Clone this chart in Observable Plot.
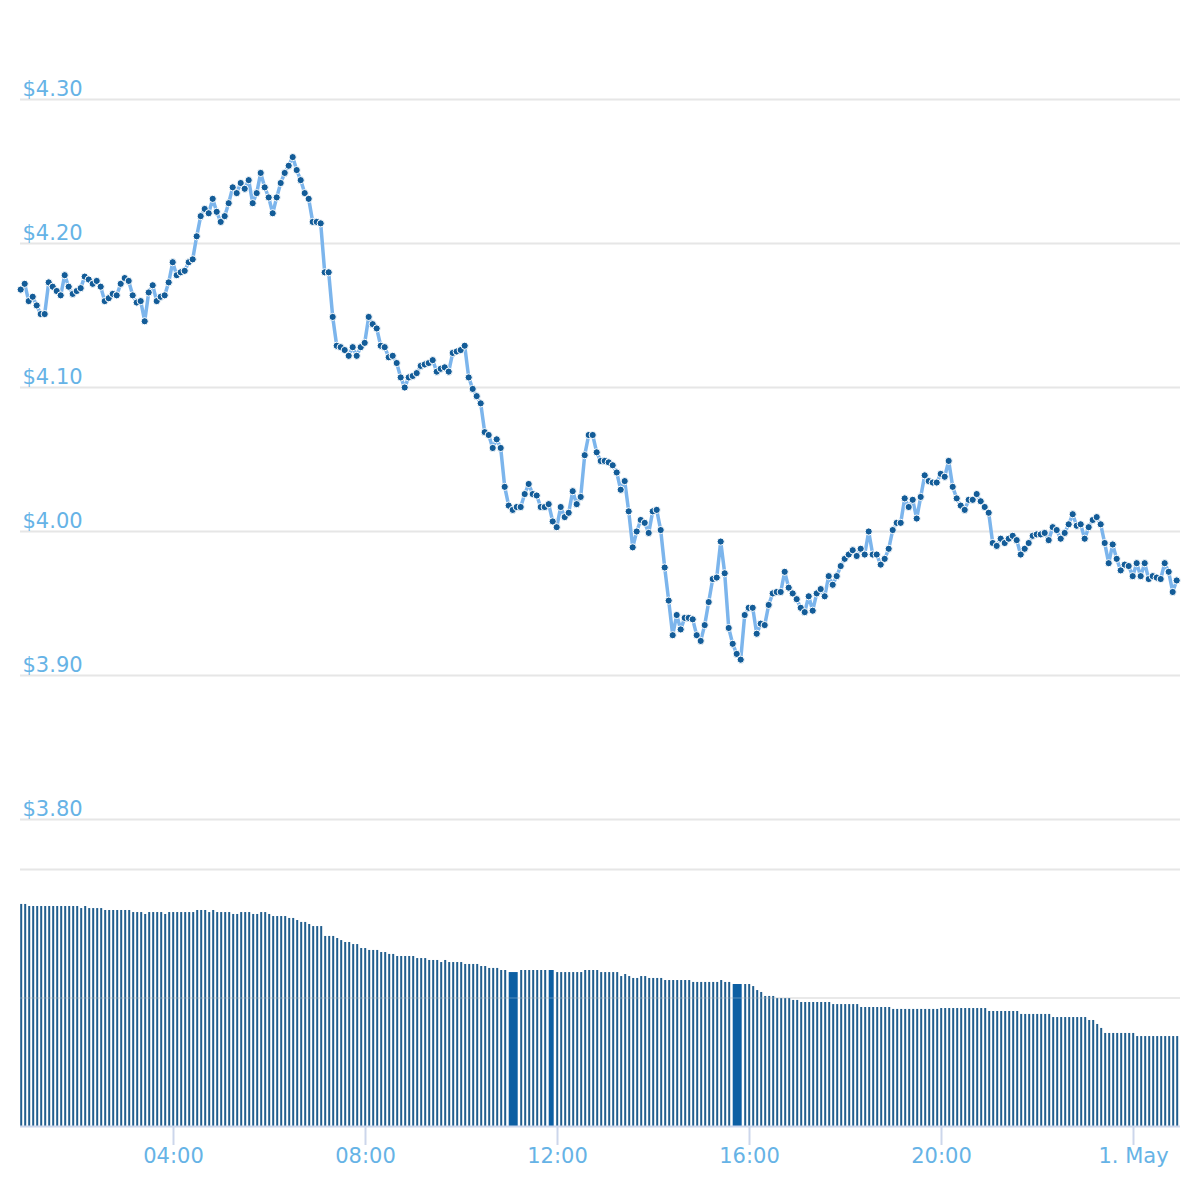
<!DOCTYPE html>
<html><head><meta charset="utf-8">
<script src="https://cdn.jsdelivr.net/npm/d3@7"></script>
<script src="https://cdn.jsdelivr.net/npm/@observablehq/plot@0.6"></script>
<style>
html,body{margin:0;padding:0;background:#fff;}
#chart{width:1200px;height:1200px;position:relative;overflow:hidden;}
#chart svg{display:block;}
</style></head><body><div id="chart"></div>
<script>
// ---- data ----
const startTime = "2021-04-30T00:49:00Z";
const stepMinutes = 5;
const xDomainStart = "2021-04-30T00:48:45Z";
const xDomainEnd = "2021-05-01T00:58:45Z";

const prices = [
4.168,4.172,4.160,4.163,4.157,4.151,4.151,4.173,4.170,4.167,
4.164,4.178,4.170,4.165,4.167,4.169,4.177,4.175,4.172,4.174,
4.170,4.160,4.162,4.165,4.164,4.172,4.176,4.174,4.164,4.159,
4.160,4.146,4.166,4.171,4.160,4.163,4.164,4.173,4.187,4.178,
4.180,4.181,4.187,4.189,4.205,4.219,4.224,4.221,4.231,4.222,
4.215,4.219,4.228,4.239,4.235,4.242,4.238,4.244,4.228,4.235,
4.249,4.239,4.232,4.221,4.232,4.242,4.249,4.254,4.260,4.251,
4.244,4.235,4.231,4.215,4.215,4.214,4.180,4.180,4.149,4.129,
4.128,4.126,4.122,4.128,4.122,4.128,4.131,4.149,4.144,4.141,
4.129,4.128,4.121,4.122,4.117,4.107,4.100,4.107,4.108,4.110,
4.115,4.116,4.117,4.119,4.111,4.113,4.114,4.111,4.124,4.125,
4.126,4.129,4.107,4.099,4.094,4.089,4.069,4.067,4.058,4.064,
4.058,4.031,4.018,4.015,4.017,4.017,4.026,4.033,4.026,4.025,
4.017,4.017,4.019,4.007,4.003,4.017,4.010,4.013,4.028,4.019,
4.024,4.053,4.067,4.067,4.055,4.049,4.049,4.048,4.046,4.041,
4.029,4.035,4.014,3.989,4.000,4.008,4.006,3.999,4.014,4.015,
4.001,3.975,3.952,3.928,3.942,3.932,3.940,3.940,3.939,3.928,
3.924,3.935,3.951,3.967,3.968,3.993,3.971,3.933,3.922,3.915,
3.911,3.942,3.947,3.947,3.929,3.936,3.935,3.949,3.957,3.958,
3.958,3.972,3.961,3.957,3.953,3.947,3.944,3.955,3.945,3.957,
3.960,3.955,3.969,3.963,3.969,3.976,3.981,3.984,3.987,3.983,
3.988,3.984,4.000,3.984,3.984,3.977,3.981,3.988,4.001,4.006,
4.006,4.023,4.017,4.022,4.009,4.024,4.039,4.035,4.034,4.034,
4.040,4.038,4.049,4.031,4.023,4.018,4.015,4.022,4.022,4.026,
4.021,4.017,4.013,3.992,3.990,3.995,3.992,3.995,3.997,3.994,
3.984,3.988,3.992,3.997,3.998,3.998,3.999,3.994,4.003,4.001,
3.995,3.999,4.005,4.012,4.004,4.005,3.995,4.003,4.008,4.010,
4.005,3.992,3.978,3.991,3.981,3.973,3.977,3.976,3.969,3.978,
3.969,3.978,3.967,3.969,3.968,3.967,3.978,3.972,3.958,3.966
];

// volume per 5-minute slot (null = slot covered by the previous, wider bar)
const volumes = [
1.728,1.728,1.712,1.712,1.712,1.712,1.712,1.712,1.712,1.712,
1.712,1.712,1.712,1.712,1.712,1.696,1.712,1.696,1.696,1.696,
1.696,1.681,1.681,1.681,1.681,1.681,1.681,1.681,1.665,1.665,
1.665,1.650,1.665,1.665,1.665,1.665,1.650,1.665,1.665,1.665,
1.665,1.665,1.665,1.665,1.681,1.681,1.681,1.665,1.681,1.665,
1.665,1.665,1.665,1.650,1.650,1.665,1.665,1.665,1.650,1.650,
1.665,1.665,1.650,1.634,1.634,1.634,1.634,1.619,1.619,1.603,
1.588,1.588,1.572,1.556,1.556,1.556,1.479,1.479,1.479,1.463,
1.447,1.432,1.432,1.416,1.416,1.385,1.385,1.370,1.370,1.370,
1.354,1.354,1.339,1.339,1.323,1.323,1.323,1.323,1.323,1.307,
1.307,1.307,1.292,1.292,1.292,1.276,1.292,1.276,1.276,1.276,
1.276,1.261,1.261,1.261,1.261,1.245,1.245,1.230,1.230,1.230,
1.214,1.214,1.198,null,null,1.214,1.214,1.214,1.214,1.214,
1.214,1.214,1.214,null,1.198,1.198,1.198,1.198,1.198,1.198,
1.198,1.214,1.214,1.214,1.214,1.198,1.198,1.198,1.198,1.198,
1.167,1.183,1.167,1.152,1.152,1.167,1.167,1.152,1.152,1.152,
1.152,1.136,1.136,1.136,1.136,1.136,1.136,1.136,1.121,1.121,
1.121,1.121,1.121,1.121,1.121,1.136,1.121,1.121,1.105,null,
null,1.105,1.105,1.089,1.058,1.043,1.012,1.012,1.012,0.996,
0.996,0.996,0.996,0.981,0.981,0.965,0.965,0.965,0.965,0.965,
0.965,0.965,0.965,0.949,0.949,0.949,0.949,0.949,0.949,0.949,
0.926,0.926,0.926,0.926,0.926,0.926,0.926,0.926,0.911,0.911,
0.911,0.911,0.911,0.911,0.911,0.911,0.911,0.911,0.911,0.911,
0.918,0.918,0.918,0.918,0.918,0.918,0.918,0.918,0.918,0.918,
0.918,0.918,0.895,0.895,0.895,0.895,0.895,0.895,0.895,0.895,
0.872,0.872,0.872,0.872,0.872,0.872,0.872,0.872,0.848,0.848,
0.848,0.848,0.848,0.848,0.848,0.848,0.848,0.825,0.825,0.794,
0.763,0.724,0.724,0.724,0.724,0.724,0.724,0.724,0.724,0.700,
0.700,0.700,0.700,0.700,0.700,0.700,0.700,0.700,0.700,0.700
];

const priceTicks = [3.80, 3.90, 4.00, 4.10, 4.20, 4.30];
const volumeGrid = [1, 2];
const timeTicks = ["2021-04-30T04:00:00Z","2021-04-30T08:00:00Z","2021-04-30T12:00:00Z",
                   "2021-04-30T16:00:00Z","2021-04-30T20:00:00Z","2021-05-01T00:00:00Z"];
const timeTickLabels = ["04:00","08:00","12:00","16:00","20:00","1. May"];

// ---- build tables ----
const t0 = new Date(startTime).getTime();
const step = stepMinutes * 60000;
const series = prices.map((p, i) => ({t: new Date(t0 + i * step), p}));
const bars = [];
volumes.forEach((v, i) => {
  if (v == null) { if (bars.length) bars[bars.length - 1].span++; return; }
  bars.push({i, v, span: 1});
});
bars.forEach(b => {
  b.t1 = new Date(t0 + b.i * step - step / 2 + step * 0.25);
  b.t2 = new Date(t0 + (b.i + b.span - 1) * step + step / 2 + step * 0.25);
});
const xDomain = [new Date(xDomainStart), new Date(xDomainEnd)];
const labelColor = "#66b3e6";
const font = {fontFamily: "DejaVu Sans, Verdana, sans-serif", fontSize: "21px", background: "#fff"};

const pricePlot = Plot.plot({
  width: 1200, height: 860,
  marginLeft: 20, marginRight: 20, marginTop: 99, marginBottom: 41,
  style: font,
  x: {type: "utc", domain: xDomain, axis: null},
  y: {domain: [3.8, 4.3], axis: null},
  marks: [
    Plot.ruleY(priceTicks, {stroke: "#e6e6e6", strokeWidth: 2}),
    Plot.text(priceTicks, {y: d => d, frameAnchor: "left", textAnchor: "start", dx: 2, dy: -10,
      text: d => "$" + d.toFixed(2), fill: labelColor, fontSize: 21}),
    Plot.line(series, {x: "t", y: "p", stroke: "#7cb5ec", strokeWidth: 3.5}),
    Plot.dot(series, {x: "t", y: "p", r: 3.6, fill: "#135c98", stroke: "#fff", strokeWidth: 1})
  ]
});

const volumePlot = Plot.plot({
  width: 1200, height: 340,
  marginLeft: 20, marginRight: 20, marginTop: 9, marginBottom: 74,
  style: font,
  x: {type: "utc", domain: xDomain},
  y: {domain: [0, 2], axis: null},
  marks: [
    Plot.ruleY(volumeGrid, {stroke: "#e6e6e6", strokeWidth: 2}),
    Plot.rect(bars.filter(b => b.span === 1), {x1: "t1", x2: "t2", y1: () => 0, y2: "v",
      fill: "#215e8e", insetLeft: 1, insetRight: 1}),
    Plot.rect(bars.filter(b => b.span > 1), {x1: "t1", x2: "t2", y1: () => 0, y2: "v",
      fill: "#0c5fa3", insetLeft: 1.5, insetRight: 1.5}),
    Plot.ruleY([1], {stroke: "#ffffff", strokeOpacity: 0.15, strokeWidth: 2}),
    Plot.ruleY([0], {stroke: "#ccd6eb", strokeWidth: 2}),
    Plot.axisX({anchor: "bottom", ticks: timeTicks.map(d => new Date(d)),
      tickFormat: (d, i) => timeTickLabels[i], tickSize: 19, tickPadding: 3,
      stroke: "#ccd6eb", strokeWidth: 2, fill: labelColor, fontSize: 21, label: null})
  ]
});

const chart = document.getElementById("chart");
chart.append(pricePlot, volumePlot);
if (prices.length !== 290 || volumes.length !== 290) {
  const p = document.createElement("div");
  p.textContent = "length mismatch " + prices.length + " " + volumes.length;
  p.style.cssText = "position:absolute;top:0;left:300px;color:red";
  chart.append(p);
}
</script></body></html>
